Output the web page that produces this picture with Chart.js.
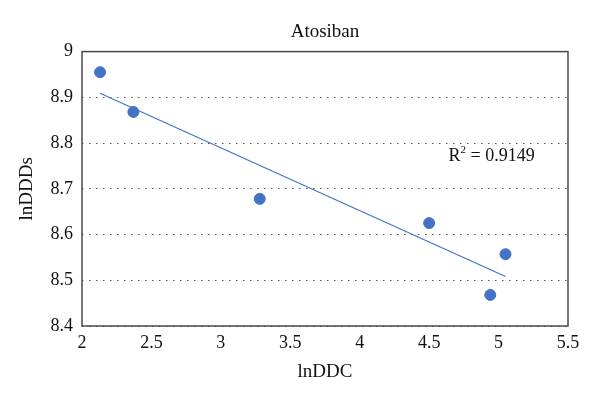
<!DOCTYPE html>
<html>
<head>
<meta charset="utf-8">
<script src="https://cdn.jsdelivr.net/npm/chart.js@4/dist/chart.umd.min.js"></script>
<style>
  html, body { margin: 0; padding: 0; background: #fff; }
  #wrap { width: 600px; height: 397px; }
</style>
</head>
<body>
<div id="wrap"><canvas id="chartAtosiban" width="600" height="397"></canvas></div>
<script>
// Datos
var lnDDC = [2.13, 2.37, 3.28, 4.50, 5.05, 4.94];
var lnDDDs = [8.955, 8.868, 8.678, 8.625, 8.557, 8.468];
var r2Text = '0.9149';
var chartTitle = 'Atosiban';

// Linea de tendencia (minimos cuadrados sobre los puntos)
var n = lnDDC.length;
var mx = lnDDC.reduce(function(a, b) { return a + b; }, 0) / n;
var my = lnDDDs.reduce(function(a, b) { return a + b; }, 0) / n;
var sxy = 0, sxx = 0;
for (var i = 0; i < n; i++) {
    sxy += (lnDDC[i] - mx) * (lnDDDs[i] - my);
    sxx += (lnDDC[i] - mx) * (lnDDC[i] - mx);
}
var slope = sxy / sxx;
var xMin = Math.min.apply(null, lnDDC), xMax = Math.max.apply(null, lnDDC);
var trend = [
    { x: xMin, y: my + slope * (xMin - mx) },
    { x: xMax, y: my + slope * (xMax - mx) }
];

var points = lnDDC.map(function(x, i) { return { x: x, y: lnDDDs[i] }; });

var serif = '"Liberation Serif", "DejaVu Serif", serif';
var blue = '#4472C4';

// Marco del area de trazado, titulo centrado y texto R²
var framePlugin = {
    id: 'frame',
    afterDraw: function(chart) {
        var ctx = chart.ctx, a = chart.chartArea;
        ctx.save();
        ctx.strokeStyle = '#4a4a4a';
        ctx.lineWidth = 1.5;
        ctx.strokeRect(a.left, a.top, a.right - a.left, a.bottom - a.top);

        ctx.fillStyle = '#111';
        ctx.textAlign = 'center';
        ctx.textBaseline = 'middle';
        ctx.font = '19px ' + serif;
        ctx.fillText(chartTitle, (a.left + a.right) / 2, 32);

        ctx.textAlign = 'left';
        var px = chart.scales.x.getPixelForValue(4.64);
        var py = chart.scales.y.getPixelForValue(8.775);
        ctx.textBaseline = 'alphabetic';
        ctx.font = '18px ' + serif;
        ctx.fillText('R', px, py + 6);
        var w = ctx.measureText('R').width;
        ctx.font = '11px ' + serif;
        ctx.fillText('2', px + w, py - 2);
        var w2 = ctx.measureText('2').width;
        ctx.font = '18px ' + serif;
        ctx.fillText(' = ' + r2Text, px + w + w2, py + 6);
        ctx.restore();
    }
};

var fmt = function(v) { return String(+(+v).toFixed(1)); };

new Chart(document.getElementById('chartAtosiban').getContext('2d'), {
    type: 'scatter',
    data: {
        datasets: [{
            data: points,
            backgroundColor: blue,
            borderColor: blue,
            pointRadius: 5.5,
            pointHoverRadius: 5.5
        }, {
            type: 'line',
            data: trend,
            borderColor: blue,
            borderWidth: 1.2,
            pointRadius: 0,
            fill: false
        }]
    },
    options: {
        responsive: false,
        animation: false,
        layout: { padding: { left: 0, right: 32, top: 0, bottom: 0 } },
        plugins: {
            legend: { display: false },
            tooltip: { enabled: false },
            title: {
                // solo reserva el espacio; el texto se dibuja centrado sobre el area
                display: true,
                text: chartTitle,
                color: 'rgba(0,0,0,0)',
                font: { family: serif, size: 18, weight: 'normal' },
                padding: { top: 21, bottom: 9 }
            }
        },
        scales: {
            x: {
                type: 'linear',
                min: 2,
                max: 5.5,
                afterFit: function(s) { s.height = 71; },
                ticks: { stepSize: 0.5, color: '#111', padding: 6, callback: fmt,
                         font: { family: serif, size: 18 } },
                grid: { display: false, drawTicks: false },
                border: { display: false },
                title: { display: true, text: 'lnDDC', color: '#111',
                         font: { family: serif, size: 19 }, padding: { top: 0, bottom: 14 } }
            },
            y: {
                type: 'linear',
                min: 8.4,
                max: 9,
                afterFit: function(s) { s.width = 82; },
                ticks: { stepSize: 0.1, color: '#111', padding: 9, callback: fmt,
                         font: { family: serif, size: 18 } },
                grid: { color: '#555', lineWidth: 1, drawTicks: false },
                border: { display: false, dash: [1.5, 5.5] },
                title: { display: true, text: 'lnDDDs', color: '#111',
                         font: { family: serif, size: 19 }, padding: { top: 16, bottom: 0 } }
            }
        }
    },
    plugins: [framePlugin]
});
</script>
</body>
</html>
